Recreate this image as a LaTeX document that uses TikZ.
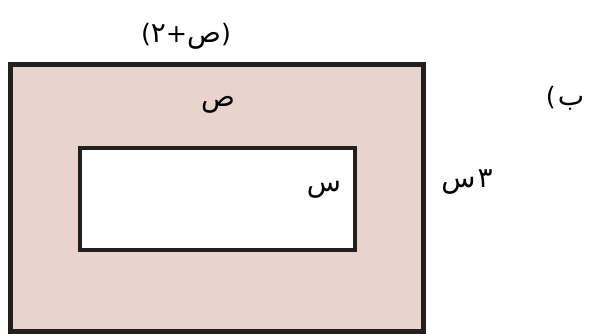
\documentclass[tikz,border=0pt]{standalone}
\usepackage{fontspec}
\newfontfamily\arabicfont[Script=Arabic]{DejaVu Sans}
\newfontfamily\plainsans{DejaVu Sans}
\definecolor{pinkfill}{RGB}{232,212,205}
\definecolor{darkline}{RGB}{35,31,32}
\newcommand{\ltr}[1]{\mbox{\plainsans\fontsize{19}{22}\selectfont #1}}
\newcommand{\arb}[1]{\mbox{\arabicfont\fontsize{21}{24}\selectfont #1}}
\tikzset{
  lbl/.style={inner sep=0pt, text=black},
  outerbox/.style={draw=darkline, line width=3.75pt, fill=pinkfill},
  innerbox/.style={draw=darkline, line width=3pt, fill=white}
}
\begin{document}
\begin{tikzpicture}[x=0.75pt,y=-0.75pt]
\useasboundingbox (0,0) rectangle (590,334);
\path[outerbox] (10.5,64.5) rectangle (423.5,331.5);
\path[innerbox] (79.5,148) rectangle (354.5,250);
\node[lbl] (top) at (186,36) {\ltr{(}\arb{٢}\ltr{+}\arb{ص}\ltr{)}};
\node[lbl] (item) at (565,98) {\ltr{(}\,\arb{ب}};
\node[lbl] (y) at (218,105) {\arb{ص}};
\node[lbl] (x) at (324,190) {\arb{س}};
\node[lbl] (side) at (467,182) {\arb{س}\,\arb{٣}};
\end{tikzpicture}
\end{document}
